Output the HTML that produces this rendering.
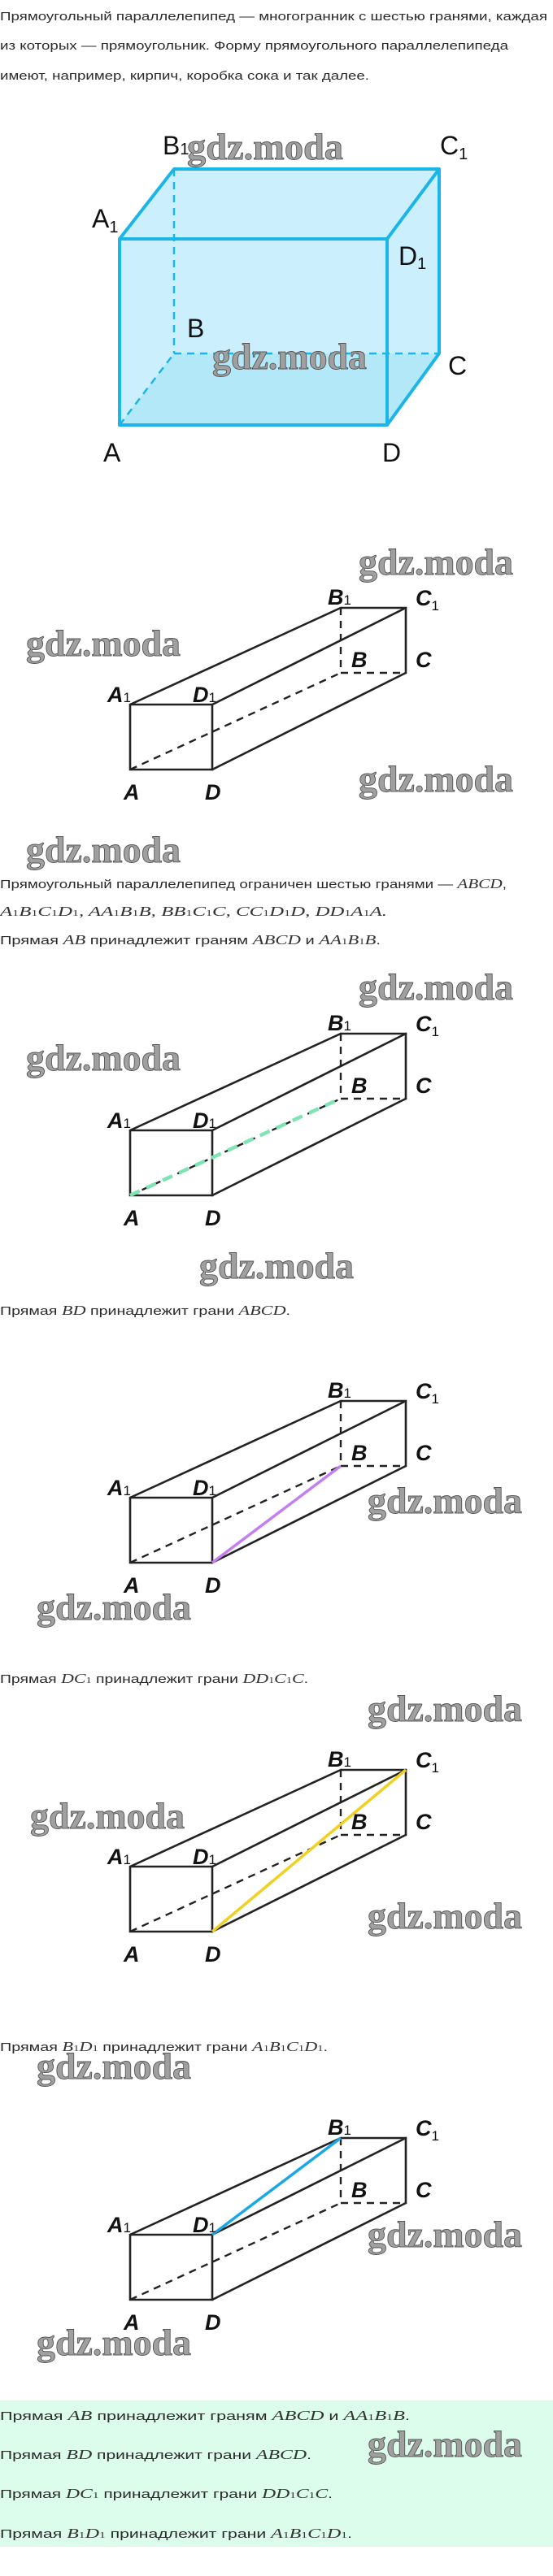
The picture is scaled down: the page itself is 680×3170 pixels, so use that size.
<!DOCTYPE html>
<html><head><meta charset="utf-8"><style>
html,body{margin:0;padding:0;background:#fff;}
svg{display:block;}
.t{font-family:"Liberation Sans",sans-serif;font-size:15px;fill:#2a2a2a;}
.m{font-family:"Liberation Serif",serif;font-style:italic;font-size:17px;fill:#333;}
.s{font-size:11px;font-style:normal;}
.wm{font-family:"Liberation Serif",serif;font-weight:bold;font-size:46px;fill:#a0a0a0;stroke:#555;stroke-width:0.9;}
.lb{font-family:"Liberation Sans Narrow","Liberation Sans",sans-serif;font-weight:bold;font-style:italic;font-size:27px;fill:#111;}
.lb1{font-family:"Liberation Sans Narrow","Liberation Sans",sans-serif;font-size:32px;fill:#111;}
.sub{font-size:17px;font-weight:normal;font-style:normal;}
.sub1{font-size:20px;}
.ln{stroke:#222;stroke-width:2.6;fill:none;stroke-linecap:round;}
.ds{stroke:#222;stroke-width:2.4;fill:none;stroke-dasharray:9,7;}
</style></head><body>
<svg width="680" height="3170" viewBox="0 0 680 3170" xmlns="http://www.w3.org/2000/svg">
<defs>
<g id="box">
  <line class="ds" x1="419" y1="748" x2="419" y2="828"/>
  <line class="ds" x1="419" y1="828" x2="499" y2="828"/>
  <line class="ds" x1="160" y1="947" x2="419" y2="828"/>
  <polyline class="ln" points="160,867 261,867 261,947 160,947 160,867"/>
  <line class="ln" x1="160" y1="867" x2="419" y2="748"/>
  <line class="ln" x1="261" y1="867" x2="499" y2="748"/>
  <line class="ln" x1="261" y1="947" x2="499" y2="828"/>
  <polyline class="ln" points="419,748 499,748 499,828"/>
</g>
<g id="lbl">
  <text class="lb" x="132" y="864">A<tspan class="sub">1</tspan></text>
  <text class="lb" x="237" y="864">D<tspan class="sub">1</tspan></text>
  <text class="lb" x="152" y="984">A</text>
  <text class="lb" x="252" y="984">D</text>
  <text class="lb" x="403" y="744">B<tspan class="sub">1</tspan></text>
  <text class="lb" x="511" y="745">C<tspan class="sub" dy="6">1</tspan></text>
  <text class="lb" x="432" y="821">B</text>
  <text class="lb" x="511" y="821">C</text>
</g>
</defs>

<!-- paragraph 1 -->
<text class="t" x="0" y="25" textLength="673" lengthAdjust="spacingAndGlyphs">Прямоугольный параллелепипед — многогранник с шестью гранями, каждая</text>
<text class="t" x="0" y="61" textLength="625" lengthAdjust="spacingAndGlyphs">из которых — прямоугольник. Форму прямоугольного параллелепипеда</text>
<text class="t" x="0" y="98" textLength="454" lengthAdjust="spacingAndGlyphs">имеют, например, кирпич, коробка сока и так далее.</text>

<!-- cube 1 -->
<polygon points="147,294 214,208 540,208 540,435 476,523 147,523" fill="#cbeffc"/>
<polygon points="147,523 214,435 540,435 476,523" fill="#b3e8f9"/>
<line x1="214" y1="208" x2="214" y2="435" stroke="#1cb5e8" stroke-width="2.5" stroke-dasharray="9,7"/>
<line x1="214" y1="435" x2="540" y2="435" stroke="#1cb5e8" stroke-width="2.5" stroke-dasharray="9,7"/>
<line x1="147" y1="523" x2="214" y2="435" stroke="#1cb5e8" stroke-width="2.5" stroke-dasharray="9,7"/>
<g stroke="#1cb5e8" stroke-width="4" fill="none" stroke-linejoin="round">
  <rect x="147" y="294" width="329" height="229"/>
  <polyline points="147,294 214,208 540,208 476,294"/>
  <polyline points="540,208 540,435 476,523"/>
</g>
<text class="lb1" x="200" y="190">B<tspan class="sub1">1</tspan></text>
<text class="lb1" x="541" y="190">C<tspan class="sub1" dy="6">1</tspan></text>
<text class="lb1" x="113" y="280">A<tspan class="sub1" dy="6">1</tspan></text>
<text class="lb1" x="490" y="326">D<tspan class="sub1" dy="5">1</tspan></text>
<text class="lb1" x="230" y="415">B</text>
<text class="lb1" x="551" y="461">C</text>
<text class="lb1" x="127" y="568">A</text>
<text class="lb1" x="470" y="568">D</text>
<text class="wm" x="230" y="196" textLength="192" lengthAdjust="spacingAndGlyphs">gdz.moda</text>
<text class="wm" x="261" y="454" textLength="190" lengthAdjust="spacingAndGlyphs">gdz.moda</text>

<!-- fig 2 -->
<use href="#box"/><use href="#lbl"/>
<text class="wm" x="441" y="707" textLength="190" lengthAdjust="spacingAndGlyphs">gdz.moda</text>
<text class="wm" x="32" y="807" textLength="190" lengthAdjust="spacingAndGlyphs">gdz.moda</text>
<text class="wm" x="441" y="974" textLength="190" lengthAdjust="spacingAndGlyphs">gdz.moda</text>
<text class="wm" x="32" y="1061" textLength="190" lengthAdjust="spacingAndGlyphs">gdz.moda</text>

<text class="t" x="0" y="1093" textLength="623" lengthAdjust="spacingAndGlyphs">Прямоугольный параллелепипед ограничен шестью гранями — <tspan class="m">ABCD</tspan>,</text>
<text class="m" x="0" y="1127" textLength="476" lengthAdjust="spacingAndGlyphs">A<tspan class="s">1</tspan>B<tspan class="s">1</tspan>C<tspan class="s">1</tspan>D<tspan class="s">1</tspan>, AA<tspan class="s">1</tspan>B<tspan class="s">1</tspan>B, BB<tspan class="s">1</tspan>C<tspan class="s">1</tspan>C, CC<tspan class="s">1</tspan>D<tspan class="s">1</tspan>D, DD<tspan class="s">1</tspan>A<tspan class="s">1</tspan>A.</text>
<text class="t" x="0" y="1162" textLength="468" lengthAdjust="spacingAndGlyphs">Прямая <tspan class="m">AB</tspan> принадлежит граням <tspan class="m">ABCD</tspan> и <tspan class="m">AA<tspan class="s">1</tspan>B<tspan class="s">1</tspan>B</tspan>.</text>

<!-- fig 3 -->
<g transform="translate(0,524)">
  <use href="#box"/><use href="#lbl"/>
  <line x1="160" y1="947" x2="414" y2="830" stroke="#7fe3b4" stroke-width="4.5" stroke-dasharray="13,9"/>
</g>
<text class="wm" x="441" y="1230" textLength="190" lengthAdjust="spacingAndGlyphs">gdz.moda</text>
<text class="wm" x="32" y="1317" textLength="190" lengthAdjust="spacingAndGlyphs">gdz.moda</text>
<text class="wm" x="245" y="1573" textLength="190" lengthAdjust="spacingAndGlyphs">gdz.moda</text>
<text class="t" x="0" y="1618" textLength="357" lengthAdjust="spacingAndGlyphs">Прямая <tspan class="m">BD</tspan> принадлежит грани <tspan class="m">ABCD</tspan>.</text>

<!-- fig 4 -->
<g transform="translate(0,976)">
  <use href="#box"/>
  <line x1="261" y1="947" x2="419" y2="828" stroke="#c47ef0" stroke-width="3.5"/>
  <use href="#lbl"/>
</g>
<text class="wm" x="452" y="1862" textLength="190" lengthAdjust="spacingAndGlyphs">gdz.moda</text>
<text class="wm" x="45" y="1993" textLength="190" lengthAdjust="spacingAndGlyphs">gdz.moda</text>
<text class="t" x="0" y="2071" textLength="379" lengthAdjust="spacingAndGlyphs">Прямая <tspan class="m">DC<tspan class="s">1</tspan></tspan> принадлежит грани <tspan class="m">DD<tspan class="s">1</tspan>C<tspan class="s">1</tspan>C</tspan>.</text>
<text class="wm" x="452" y="2118" textLength="190" lengthAdjust="spacingAndGlyphs">gdz.moda</text>

<!-- fig 5 -->
<g transform="translate(0,1430)">
  <use href="#box"/>
  <line x1="261" y1="947" x2="499" y2="748" stroke="#f0d020" stroke-width="3.5"/>
  <use href="#lbl"/>
</g>
<text class="wm" x="37" y="2250" textLength="190" lengthAdjust="spacingAndGlyphs">gdz.moda</text>
<text class="wm" x="452" y="2373" textLength="190" lengthAdjust="spacingAndGlyphs">gdz.moda</text>
<text class="t" x="0" y="2524" textLength="403" lengthAdjust="spacingAndGlyphs">Прямая <tspan class="m">B<tspan class="s">1</tspan>D<tspan class="s">1</tspan></tspan> принадлежит грани <tspan class="m">A<tspan class="s">1</tspan>B<tspan class="s">1</tspan>C<tspan class="s">1</tspan>D<tspan class="s">1</tspan></tspan>.</text>
<text class="wm" x="45" y="2558" textLength="190" lengthAdjust="spacingAndGlyphs">gdz.moda</text>

<!-- fig 6 -->
<g transform="translate(0,1883)">
  <use href="#box"/>
  <line x1="261" y1="867" x2="419" y2="748" stroke="#1aa8e4" stroke-width="3.5"/>
  <use href="#lbl"/>
</g>
<text class="wm" x="452" y="2765" textLength="190" lengthAdjust="spacingAndGlyphs">gdz.moda</text>
<text class="wm" x="45" y="2898" textLength="190" lengthAdjust="spacingAndGlyphs">gdz.moda</text>

<!-- summary box -->
<rect x="0" y="2954" width="680" height="180" fill="#dcfdec"/>
<text class="t" x="0" y="2978" font-size="16" textLength="504" lengthAdjust="spacingAndGlyphs">Прямая <tspan class="m">AB</tspan> принадлежит граням <tspan class="m">ABCD</tspan> и <tspan class="m">AA<tspan class="s">1</tspan>B<tspan class="s">1</tspan>B</tspan>.</text>
<text class="t" x="0" y="3026" font-size="16" textLength="383" lengthAdjust="spacingAndGlyphs">Прямая <tspan class="m">BD</tspan> принадлежит грани <tspan class="m">ABCD</tspan>.</text>
<text class="t" x="0" y="3074" font-size="16" textLength="409" lengthAdjust="spacingAndGlyphs">Прямая <tspan class="m">DC<tspan class="s">1</tspan></tspan> принадлежит грани <tspan class="m">DD<tspan class="s">1</tspan>C<tspan class="s">1</tspan>C</tspan>.</text>
<text class="t" x="0" y="3123" font-size="16" textLength="433" lengthAdjust="spacingAndGlyphs">Прямая <tspan class="m">B<tspan class="s">1</tspan>D<tspan class="s">1</tspan></tspan> принадлежит грани <tspan class="m">A<tspan class="s">1</tspan>B<tspan class="s">1</tspan>C<tspan class="s">1</tspan>D<tspan class="s">1</tspan></tspan>.</text>
<text class="wm" x="452" y="3023" textLength="190" lengthAdjust="spacingAndGlyphs">gdz.moda</text>
</svg>
</body></html>
